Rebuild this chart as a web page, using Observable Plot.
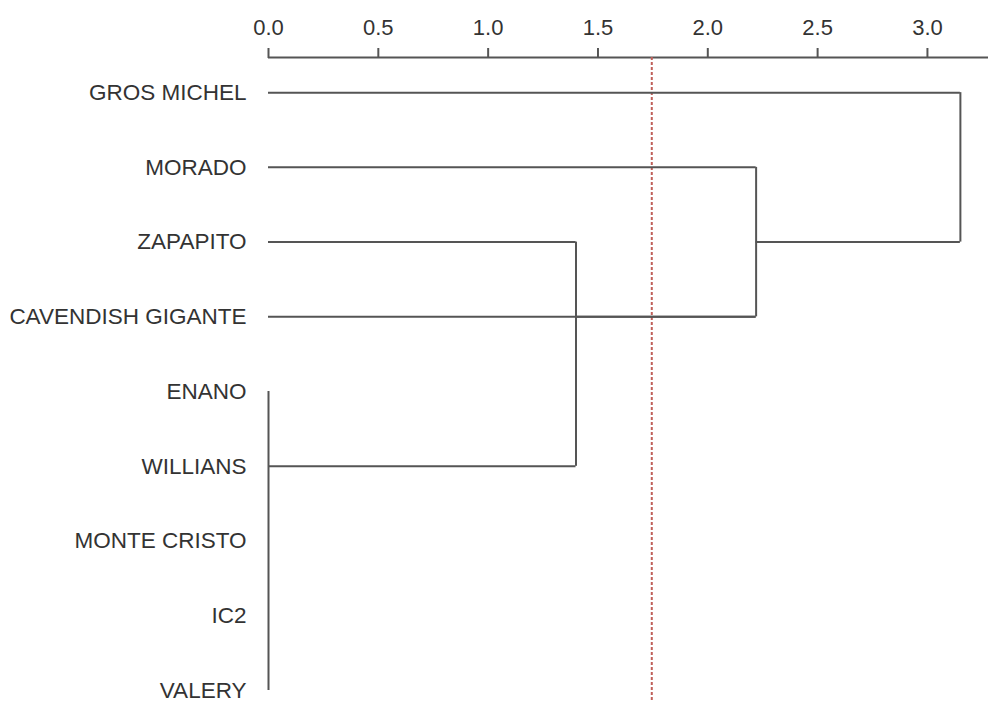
<!DOCTYPE html>
<html>
<head>
<meta charset="utf-8">
<script src="https://cdn.jsdelivr.net/npm/d3@7"></script>
<script src="https://cdn.jsdelivr.net/npm/@observablehq/plot@0.6"></script>
<style>
  html, body { margin: 0; padding: 0; background: #fff; }
  #chart svg { display: block; }
</style>
</head>
<body>
<div id="chart"></div>
<script>
// Leaves, top to bottom
const leaves = ["GROS MICHEL", "MORADO", "ZAPAPITO", "CAVENDISH GIGANTE", "ENANO", "WILLIANS", "MONTE CRISTO", "IC2", "VALERY"];
// Height at which each leaf joins its parent cluster (0 = merged at distance 0, no branch)
const leafJoin = [3.15, 2.22, 1.40, 2.22, 0, 0, 0, 0, 0];
// Merges: height, span of rows joined, row where the branch leaves, parent height
const mergeHeight = [0, 1.40, 2.22, 3.15];
const mergeFrom   = [4, 2, 1, 0];
const mergeTo     = [8, 5, 3, 2];
const mergeOutRow = [5, 3, 2, null];
const mergeParent = [1.40, 2.22, 3.15, null];
// Cut-off line
const cutValue = 1.745;
const xTicks = [0, 0.5, 1.0, 1.5, 2.0, 2.5, 3.0];

const horiz = [];
leaves.forEach((name, i) => {
  if (leafJoin[i] > 0) horiz.push({y: i, x1: 0, x2: leafJoin[i]});
});
mergeHeight.forEach((h, k) => {
  if (mergeParent[k] != null) horiz.push({y: mergeOutRow[k], x1: h, x2: mergeParent[k]});
});
const vert = mergeHeight.map((h, k) => ({x: h, y1: mergeFrom[k], y2: mergeTo[k]}));

const font = "'Liberation Sans', Arial, sans-serif";
const lineColor = "#555";

const chart = Plot.plot({
  width: 988,
  height: 702,
  marginLeft: 268,
  marginRight: 0,
  marginTop: 57,
  marginBottom: 0,
  style: {fontFamily: font, fontSize: "22.5px", color: "#333", background: "#fff"},
  x: {domain: [0, 3.278], axis: null},
  y: {domain: [-0.47, 8.16], reverse: true, axis: null},
  marks: [
    Plot.axisX({
      anchor: "top", ticks: xTicks, tickFormat: d3.format(".1f"),
      tickSize: 10, tickPadding: 13, label: null,
      stroke: lineColor, strokeWidth: 2, fill: "#333", fontSize: 22
    }),
    Plot.ruleY([-0.47], {x1: 0, x2: 3.278, stroke: lineColor, strokeWidth: 2}),
    Plot.axisY({
      anchor: "left", ticks: d3.range(leaves.length), tickFormat: i => leaves[i],
      tickSize: 0, tickPadding: 22, label: null, fill: "#333", fontSize: 22.5
    }),
    Plot.ruleX([cutValue], {y1: -0.47, y2: 8.16, stroke: "#c0605a", strokeWidth: 2, strokeDasharray: "3,2"}),
    Plot.ruleY(horiz, {y: "y", x1: "x1", x2: "x2", stroke: lineColor, strokeWidth: 2}),
    Plot.ruleX(vert, {x: "x", y1: "y1", y2: "y2", stroke: lineColor, strokeWidth: 2})
  ]
});
document.getElementById("chart").appendChild(chart);
</script>
</body>
</html>
